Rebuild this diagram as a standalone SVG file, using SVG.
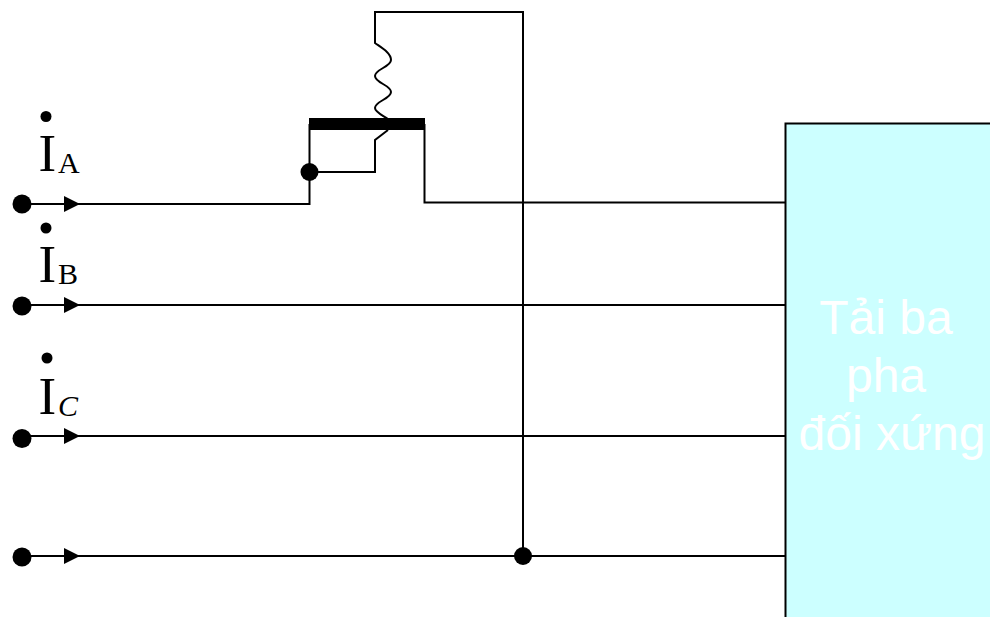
<svg xmlns="http://www.w3.org/2000/svg" width="990" height="617" viewBox="0 0 990 617">
<style>
.w{fill:none;stroke:#000;stroke-width:2}
.d{fill:#000}
.i{font-family:"Liberation Serif",serif;font-size:53px;fill:#000}
.s{font-family:"Liberation Serif",serif;font-size:30px;fill:#000}
.t{font-family:"Liberation Sans",sans-serif;font-size:48px;fill:#fff;text-anchor:middle}
</style>
<defs>
<g id="term"><circle cx="22" cy="0" r="9.500" class="d"/></g>
<path id="arrow" d="M64 -8L80 0L64 8Z" class="d"/>
</defs>
<rect width="990" height="617" fill="#fff"/>
<g id="load">
<rect x="785.500" y="123.500" width="210" height="500" fill="#ccffff" stroke="#000" stroke-width="2"/>
<text class="t" x="886" y="334">Tải ba</text>
<text class="t" x="886" y="392">pha</text>
<text class="t" x="892" y="450">đối xứng</text>
</g>
<g id="connectors">
<path class="w" d="M22 204H309.500V124"/>
<path class="w" d="M309.500 172H375V140L388 130"/>
<path class="w" d="M424.500 124V202.500H785"/>
<path class="w" d="M22 305H785"/>
<path class="w" d="M22 436H785"/>
<path class="w" d="M22 556H785"/>
<path class="w" d="M523 556V12H375V43C382 48 391 53 391 60C391 67 375 69 375 76C375 83 391 85 391 92C391 99 375 101 375 108C375 112 382 115 388 119"/>
</g>
<g id="core"><rect x="309" y="118" width="116" height="12" class="d"/></g>
<g id="junction-ct"><circle cx="309.500" cy="172" r="9" class="d"/></g>
<g id="junction-n"><circle cx="523" cy="556" r="9" class="d"/></g>
<g id="terminal-a"><use href="#term" y="204"/><use href="#arrow" y="204"/></g>
<g id="terminal-b"><use href="#term" y="306"/><use href="#arrow" y="305"/></g>
<g id="terminal-c"><use href="#term" y="438.500"/><use href="#arrow" y="436"/></g>
<g id="terminal-n"><use href="#term" y="557"/><use href="#arrow" y="556"/></g>
<g id="label-a"><circle cx="46" cy="116.500" r="5.500" class="d"/><text class="i" x="38.500" y="171">I</text><text class="s" x="58" y="173">A</text></g>
<g id="label-b"><circle cx="46" cy="228" r="5.500" class="d"/><text class="i" x="38.500" y="282">I</text><text class="s" x="58" y="284">B</text></g>
<g id="label-c"><circle cx="47" cy="358" r="5.500" class="d"/><text class="i" x="38.500" y="414">I</text><text class="s" x="58" y="416" font-style="italic">C</text></g>
</svg>
